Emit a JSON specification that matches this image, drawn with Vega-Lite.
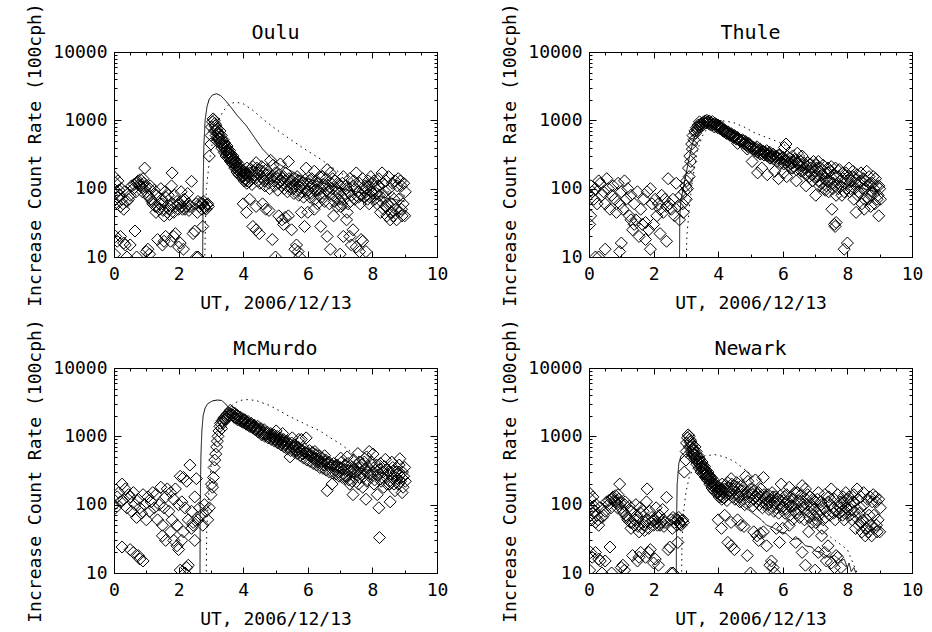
{
  "$schema": "https://vega.github.io/schema/vega-lite/v6.json",
  "background": "white",
  "padding": {"left": 26, "top": 2, "right": 5, "bottom": 5},
  "config": {
    "font": "DejaVu Sans Mono",
    "view": {"stroke": "black", "strokeWidth": 1},
    "axis": {"grid": false, "domainColor": "black", "domainWidth": 1, "tickColor": "black", "tickWidth": 1, "labelColor": "black", "labelFont": "DejaVu Sans Mono", "labelFontSize": 18, "titleFont": "DejaVu Sans Mono", "titleFontSize": 18, "titleFontWeight": "normal", "titleColor": "black", "labelOverlap": false, "labelFlush": false, "labelBound": false},
    "title": {"font": "DejaVu Sans Mono", "fontSize": 20, "fontWeight": "normal", "color": "black", "offset": 13, "baseline": "alphabetic", "frame": "group", "dy": 53}
  },
  "datasets": {
    "oulu_obs": [
      {"ut":0,"rate":150},{"ut":0.03,"rate":60},{"ut":0.05,"rate":120},{"ut":0.1,"rate":75},{"ut":0.15,"rate":95},{"ut":0.2,"rate":55},{"ut":0.25,"rate":70},{"ut":0.3,"rate":50},{"ut":0.4,"rate":65},{"ut":0.5,"rate":80},{"ut":0.55,"rate":110},{"ut":0.6,"rate":100},{"ut":0.7,"rate":120},{"ut":0.75,"rate":130},{"ut":0.8,"rate":110},{"ut":0.85,"rate":105},{"ut":0.9,"rate":140},{"ut":0.95,"rate":200},{"ut":1.0,"rate":90},{"ut":1.05,"rate":80},{"ut":1.1,"rate":100},{"ut":1.15,"rate":70},{"ut":1.2,"rate":60},{"ut":1.3,"rate":45},{"ut":1.35,"rate":55},{"ut":1.4,"rate":50},{"ut":1.5,"rate":60},{"ut":1.55,"rate":40},{"ut":1.6,"rate":75},{"ut":1.7,"rate":50},{"ut":1.75,"rate":55},{"ut":1.8,"rate":170},{"ut":1.85,"rate":45},{"ut":1.9,"rate":55},{"ut":1.95,"rate":65},{"ut":2.0,"rate":50},{"ut":2.05,"rate":60},{"ut":2.1,"rate":55},{"ut":2.15,"rate":65},{"ut":2.2,"rate":50},{"ut":2.3,"rate":60},{"ut":2.35,"rate":55},{"ut":2.4,"rate":128},{"ut":2.6,"rate":65},{"ut":2.65,"rate":55},{"ut":2.75,"rate":60},{"ut":2.8,"rate":55},{"ut":2.85,"rate":50},{"ut":2.9,"rate":60},{"ut":2.92,"rate":55},
      {"ut":0.08,"rate":90},{"ut":0.12,"rate":130},{"ut":0.18,"rate":80},{"ut":0.22,"rate":100},{"ut":0.28,"rate":60},{"ut":0.33,"rate":90},{"ut":0.45,"rate":70},{"ut":0.62,"rate":115},{"ut":0.68,"rate":90},{"ut":0.72,"rate":125},{"ut":0.78,"rate":115},{"ut":0.82,"rate":135},{"ut":0.88,"rate":90},{"ut":0.92,"rate":120},{"ut":0.98,"rate":105},{"ut":1.08,"rate":75},{"ut":1.12,"rate":110},{"ut":1.18,"rate":65},{"ut":1.25,"rate":95},{"ut":1.28,"rate":55},{"ut":1.32,"rate":80},{"ut":1.42,"rate":60},{"ut":1.45,"rate":100},{"ut":1.48,"rate":70},{"ut":1.52,"rate":48},{"ut":1.58,"rate":90},{"ut":1.65,"rate":45},{"ut":1.68,"rate":80},{"ut":1.72,"rate":42},{"ut":1.78,"rate":110},{"ut":1.82,"rate":60},{"ut":1.88,"rate":80},{"ut":1.98,"rate":58},{"ut":2.08,"rate":90},{"ut":2.12,"rate":50},{"ut":2.18,"rate":70},{"ut":2.25,"rate":55},{"ut":2.28,"rate":85},{"ut":2.32,"rate":48},{"ut":2.55,"rate":60},{"ut":2.58,"rate":45},{"ut":2.68,"rate":62},{"ut":2.72,"rate":50},{"ut":2.78,"rate":65},{"ut":2.82,"rate":52},{"ut":2.88,"rate":58},
      {"ut":0.02,"rate":11},{"ut":0.05,"rate":20},{"ut":0.1,"rate":17},{"ut":0.2,"rate":20},{"ut":0.3,"rate":16},{"ut":0.35,"rate":15},{"ut":0.5,"rate":15},{"ut":0.65,"rate":24},{"ut":0.7,"rate":10},{"ut":1.0,"rate":12},{"ut":1.05,"rate":13},{"ut":1.1,"rate":11},{"ut":1.35,"rate":18},{"ut":1.5,"rate":15},{"ut":1.55,"rate":17},{"ut":1.6,"rate":20},{"ut":1.75,"rate":17},{"ut":1.85,"rate":20},{"ut":1.9,"rate":22},{"ut":2.0,"rate":14},{"ut":2.05,"rate":16},{"ut":2.15,"rate":13},{"ut":2.45,"rate":22},{"ut":2.5,"rate":24},{"ut":2.55,"rate":10},{"ut":2.6,"rate":10},{"ut":2.75,"rate":28},{"ut":0.4,"rate":10},
      {"ut":2.95,"rate":300},{"ut":3.0,"rate":450},{"ut":3.01,"rate":600},{"ut":3.02,"rate":800},{"ut":3.05,"rate":950},{"ut":3.07,"rate":1050},{"ut":3.1,"rate":1000},{"ut":3.11,"rate":700},{"ut":3.12,"rate":900},{"ut":3.15,"rate":850},{"ut":3.16,"rate":600},{"ut":3.18,"rate":500},{"ut":3.2,"rate":750},{"ut":3.22,"rate":650},{"ut":3.25,"rate":550},{"ut":3.28,"rate":700},{"ut":3.3,"rate":480},{"ut":3.32,"rate":600},{"ut":3.35,"rate":430},{"ut":3.38,"rate":520},{"ut":3.4,"rate":400},{"ut":3.42,"rate":470},{"ut":3.45,"rate":380},{"ut":3.48,"rate":350},{"ut":3.5,"rate":420},{"ut":3.52,"rate":330},{"ut":3.55,"rate":300},{"ut":3.58,"rate":360},{"ut":3.6,"rate":280},{"ut":3.62,"rate":320},{"ut":3.65,"rate":260},{"ut":3.68,"rate":300},{"ut":3.7,"rate":240},{"ut":3.72,"rate":270},{"ut":3.75,"rate":220},{"ut":3.78,"rate":250},{"ut":3.8,"rate":210},{"ut":3.82,"rate":190},{"ut":3.85,"rate":230},{"ut":3.88,"rate":180},{"ut":3.9,"rate":200},{"ut":3.92,"rate":170},{"ut":3.95,"rate":190},{"ut":3.98,"rate":160},{"ut":4.0,"rate":150},{"ut":4.02,"rate":180},{"ut":4.05,"rate":140},{"ut":4.08,"rate":160},{"ut":4.1,"rate":130},{"ut":4.12,"rate":200},{"ut":4.15,"rate":150},{"ut":4.2,"rate":170},{"ut":4.25,"rate":140},{"ut":4.3,"rate":210},{"ut":4.35,"rate":160},{"ut":4.4,"rate":240},{"ut":4.45,"rate":130},{"ut":4.5,"rate":190},{"ut":4.55,"rate":150},{"ut":4.6,"rate":180},{"ut":4.65,"rate":130},{"ut":4.7,"rate":160},{"ut":4.75,"rate":140},{"ut":4.8,"rate":120},{"ut":4.85,"rate":260},{"ut":4.9,"rate":150},{"ut":4.95,"rate":130},{"ut":5.0,"rate":170},{"ut":5.05,"rate":140},{"ut":5.1,"rate":120},{"ut":5.15,"rate":230},{"ut":5.2,"rate":110},{"ut":5.25,"rate":150},{"ut":5.3,"rate":130},{"ut":5.35,"rate":110},{"ut":5.4,"rate":250},{"ut":5.45,"rate":120},{"ut":5.5,"rate":100},{"ut":5.55,"rate":140},{"ut":5.6,"rate":110},{"ut":5.65,"rate":95},{"ut":5.7,"rate":130},{"ut":5.75,"rate":105},{"ut":5.8,"rate":90},{"ut":5.85,"rate":120},{"ut":5.9,"rate":100},{"ut":5.95,"rate":200},{"ut":6.0,"rate":95},{"ut":6.05,"rate":130},{"ut":6.1,"rate":85},{"ut":6.15,"rate":110},{"ut":6.2,"rate":180},{"ut":6.25,"rate":95},{"ut":6.3,"rate":120},{"ut":6.35,"rate":80},{"ut":6.4,"rate":100},{"ut":6.45,"rate":150},{"ut":6.5,"rate":85},{"ut":6.55,"rate":110},{"ut":6.6,"rate":190},{"ut":6.65,"rate":90},{"ut":6.7,"rate":170},{"ut":6.75,"rate":100},{"ut":6.8,"rate":80},{"ut":6.85,"rate":130},{"ut":6.9,"rate":90},{"ut":6.95,"rate":70},{"ut":7.0,"rate":110},{"ut":7.05,"rate":60},{"ut":7.1,"rate":150},{"ut":7.15,"rate":85},{"ut":7.2,"rate":100},{"ut":7.25,"rate":60},{"ut":7.3,"rate":140},{"ut":7.35,"rate":80},{"ut":7.4,"rate":110},{"ut":7.45,"rate":70},{"ut":7.5,"rate":170},{"ut":7.55,"rate":90},{"ut":7.6,"rate":120},{"ut":7.65,"rate":80},{"ut":7.7,"rate":140},{"ut":7.75,"rate":75},{"ut":7.8,"rate":90},{"ut":7.85,"rate":70},{"ut":7.9,"rate":110},{"ut":7.95,"rate":150},{"ut":8.0,"rate":85},{"ut":8.05,"rate":130},{"ut":8.1,"rate":100},{"ut":8.15,"rate":60},{"ut":8.2,"rate":140},{"ut":8.25,"rate":45},{"ut":8.3,"rate":170},{"ut":8.35,"rate":50},{"ut":8.4,"rate":90},{"ut":8.45,"rate":40},{"ut":8.5,"rate":150},{"ut":8.55,"rate":35},{"ut":8.6,"rate":60},{"ut":8.65,"rate":40},{"ut":8.7,"rate":130},{"ut":8.75,"rate":35},{"ut":8.8,"rate":140},{"ut":8.85,"rate":45},{"ut":8.9,"rate":110},{"ut":8.95,"rate":60},{"ut":9.0,"rate":40},{"ut":9.02,"rate":90},
      {"ut":3.13,"rate":820},{"ut":3.17,"rate":720},{"ut":3.21,"rate":560},{"ut":3.24,"rate":620},{"ut":3.27,"rate":480},{"ut":3.31,"rate":540},{"ut":3.34,"rate":390},{"ut":3.37,"rate":460},{"ut":3.41,"rate":340},{"ut":3.44,"rate":420},{"ut":3.47,"rate":300},{"ut":3.51,"rate":370},{"ut":3.54,"rate":280},{"ut":3.57,"rate":330},{"ut":3.61,"rate":250},{"ut":3.64,"rate":290},{"ut":3.67,"rate":230},{"ut":3.71,"rate":260},{"ut":3.74,"rate":200},{"ut":3.77,"rate":240},{"ut":3.81,"rate":175},{"ut":3.84,"rate":210},{"ut":3.87,"rate":160},{"ut":3.91,"rate":185},{"ut":3.94,"rate":150},{"ut":3.97,"rate":175},{"ut":4.03,"rate":130},{"ut":4.07,"rate":170},{"ut":4.11,"rate":120},{"ut":4.14,"rate":160},{"ut":4.18,"rate":125},{"ut":4.22,"rate":190},{"ut":4.27,"rate":115},{"ut":4.32,"rate":180},{"ut":4.37,"rate":140},{"ut":4.42,"rate":200},{"ut":4.47,"rate":170},{"ut":4.52,"rate":120},{"ut":4.57,"rate":210},{"ut":4.62,"rate":140},{"ut":4.67,"rate":110},{"ut":4.72,"rate":190},{"ut":4.77,"rate":160},{"ut":4.82,"rate":100},{"ut":4.87,"rate":140},{"ut":4.92,"rate":220},{"ut":4.97,"rate":110},{"ut":5.02,"rate":150},{"ut":5.07,"rate":95},{"ut":5.12,"rate":160},{"ut":5.17,"rate":130},{"ut":5.22,"rate":140},{"ut":5.27,"rate":100},{"ut":5.32,"rate":170},{"ut":5.37,"rate":90},{"ut":5.42,"rate":140},{"ut":5.47,"rate":105},{"ut":5.52,"rate":130},{"ut":5.57,"rate":85},{"ut":5.62,"rate":120},{"ut":5.67,"rate":150},{"ut":5.72,"rate":80},{"ut":5.77,"rate":130},{"ut":5.82,"rate":110},{"ut":5.87,"rate":75},{"ut":5.92,"rate":135},{"ut":5.97,"rate":90},{"ut":6.02,"rate":115},{"ut":6.07,"rate":75},{"ut":6.12,"rate":140},{"ut":6.17,"rate":100},{"ut":6.22,"rate":70},{"ut":6.27,"rate":130},{"ut":6.32,"rate":95},{"ut":6.37,"rate":150},{"ut":6.42,"rate":75},{"ut":6.47,"rate":115},{"ut":6.52,"rate":65},{"ut":6.57,"rate":140},{"ut":6.62,"rate":100},{"ut":6.67,"rate":60},{"ut":6.72,"rate":120},{"ut":6.77,"rate":140},{"ut":6.82,"rate":65},{"ut":6.87,"rate":100},{"ut":6.92,"rate":120},{"ut":6.97,"rate":85},{"ut":7.02,"rate":55},{"ut":7.07,"rate":120},{"ut":7.12,"rate":70},{"ut":7.17,"rate":110},{"ut":7.22,"rate":45},{"ut":7.27,"rate":90},{"ut":7.32,"rate":65},{"ut":7.42,"rate":130},{"ut":7.47,"rate":100},{"ut":7.57,"rate":75},{"ut":7.62,"rate":60},{"ut":7.72,"rate":95},{"ut":7.77,"rate":110},{"ut":7.82,"rate":80},{"ut":7.87,"rate":130},{"ut":7.92,"rate":75},{"ut":7.97,"rate":90},{"ut":8.02,"rate":120},{"ut":8.07,"rate":70},{"ut":8.12,"rate":85},{"ut":8.17,"rate":110},{"ut":8.22,"rate":80},{"ut":8.27,"rate":65},{"ut":8.32,"rate":120},{"ut":8.37,"rate":75},{"ut":8.42,"rate":130},{"ut":8.47,"rate":60},{"ut":8.52,"rate":100},{"ut":8.57,"rate":45},{"ut":8.62,"rate":120},{"ut":8.67,"rate":70},{"ut":8.72,"rate":50},{"ut":8.77,"rate":110},{"ut":8.82,"rate":70},{"ut":8.87,"rate":130},{"ut":8.92,"rate":40},{"ut":8.97,"rate":120},
      {"ut":4.3,"rate":28},{"ut":4.4,"rate":25},{"ut":4.5,"rate":22},{"ut":4.7,"rate":50},{"ut":4.9,"rate":18},{"ut":5.0,"rate":10},{"ut":5.1,"rate":40},{"ut":5.2,"rate":35},{"ut":5.25,"rate":30},{"ut":5.3,"rate":38},{"ut":5.5,"rate":25},{"ut":5.6,"rate":13},{"ut":5.65,"rate":15},{"ut":5.7,"rate":12},{"ut":5.75,"rate":10},{"ut":5.9,"rate":28},{"ut":6.0,"rate":45},{"ut":6.2,"rate":50},{"ut":6.4,"rate":28},{"ut":6.6,"rate":20},{"ut":6.7,"rate":13},{"ut":6.8,"rate":40},{"ut":7.0,"rate":11},{"ut":7.1,"rate":20},{"ut":7.2,"rate":35},{"ut":7.3,"rate":20},{"ut":7.35,"rate":15},{"ut":7.4,"rate":25},{"ut":7.5,"rate":14},{"ut":7.6,"rate":12},{"ut":7.65,"rate":18},{"ut":7.7,"rate":17},{"ut":7.8,"rate":12},{"ut":4.0,"rate":60},{"ut":4.1,"rate":45},{"ut":4.2,"rate":70},{"ut":4.4,"rate":55},{"ut":4.6,"rate":60},{"ut":4.8,"rate":48},{"ut":5.4,"rate":40},{"ut":5.8,"rate":45},{"ut":6.3,"rate":60},{"ut":6.9,"rate":55},{"ut":7.9,"rate":60},{"ut":8.4,"rate":55},{"ut":8.6,"rate":45},{"ut":8.9,"rate":50}
    ],
    "thule_obs": [
      {"ut":0.0,"rate":80},{"ut":0.02,"rate":30},{"ut":0.05,"rate":40},{"ut":0.06,"rate":110},{"ut":0.1,"rate":90},{"ut":0.15,"rate":70},{"ut":0.2,"rate":100},{"ut":0.25,"rate":60},{"ut":0.3,"rate":130},{"ut":0.35,"rate":120},{"ut":0.4,"rate":80},{"ut":0.45,"rate":90},{"ut":0.5,"rate":60},{"ut":0.55,"rate":140},{"ut":0.6,"rate":100},{"ut":0.65,"rate":50},{"ut":0.7,"rate":80},{"ut":0.75,"rate":110},{"ut":0.8,"rate":70},{"ut":0.85,"rate":45},{"ut":0.9,"rate":120},{"ut":0.95,"rate":60},{"ut":1.0,"rate":90},{"ut":1.05,"rate":50},{"ut":1.1,"rate":130},{"ut":1.15,"rate":70},{"ut":1.2,"rate":100},{"ut":1.25,"rate":40},{"ut":1.3,"rate":80},{"ut":1.35,"rate":25},{"ut":1.4,"rate":60},{"ut":1.45,"rate":35},{"ut":1.5,"rate":90},{"ut":1.55,"rate":20},{"ut":1.6,"rate":50},{"ut":1.65,"rate":30},{"ut":1.7,"rate":70},{"ut":1.75,"rate":32},{"ut":1.8,"rate":90},{"ut":1.85,"rate":25},{"ut":1.9,"rate":100},{"ut":1.95,"rate":60},{"ut":2.0,"rate":30},{"ut":2.05,"rate":70},{"ut":2.1,"rate":40},{"ut":2.15,"rate":60},{"ut":2.2,"rate":50},{"ut":2.25,"rate":80},{"ut":2.3,"rate":45},{"ut":2.35,"rate":70},{"ut":2.4,"rate":55},{"ut":2.45,"rate":140},{"ut":2.5,"rate":60},{"ut":2.55,"rate":50},{"ut":2.6,"rate":70},{"ut":2.65,"rate":40},{"ut":2.7,"rate":120},{"ut":2.75,"rate":55},{"ut":2.8,"rate":35},{"ut":2.85,"rate":80},{"ut":2.9,"rate":60},{"ut":2.95,"rate":90},{"ut":2.92,"rate":45},{"ut":3.0,"rate":110},{"ut":3.01,"rate":70},
      {"ut":0.3,"rate":10},{"ut":0.5,"rate":13},{"ut":0.95,"rate":12},{"ut":1.0,"rate":16},{"ut":1.75,"rate":18},{"ut":1.9,"rate":13},{"ut":2.2,"rate":22},{"ut":2.4,"rate":17},{"ut":1.4,"rate":30},{"ut":1.3,"rate":35},{"ut":0.2,"rate":10},
      {"ut":3.02,"rate":130},{"ut":3.05,"rate":100},{"ut":3.08,"rate":200},{"ut":3.1,"rate":150},{"ut":3.12,"rate":300},{"ut":3.15,"rate":250},{"ut":3.18,"rate":450},{"ut":3.2,"rate":380},{"ut":3.22,"rate":600},{"ut":3.25,"rate":520},{"ut":3.28,"rate":700},{"ut":3.3,"rate":650},{"ut":3.33,"rate":780},{"ut":3.35,"rate":720},{"ut":3.38,"rate":850},{"ut":3.4,"rate":800},{"ut":3.42,"rate":950},{"ut":3.45,"rate":880},{"ut":3.48,"rate":820},{"ut":3.5,"rate":900},{"ut":3.53,"rate":860},{"ut":3.55,"rate":950},{"ut":3.58,"rate":900},{"ut":3.6,"rate":980},{"ut":3.63,"rate":920},{"ut":3.65,"rate":1000},{"ut":3.68,"rate":950},{"ut":3.7,"rate":900},{"ut":3.72,"rate":980},{"ut":3.75,"rate":870},{"ut":3.78,"rate":920},{"ut":3.8,"rate":850},{"ut":3.82,"rate":960},{"ut":3.85,"rate":880},{"ut":3.88,"rate":800},{"ut":3.9,"rate":900},{"ut":3.92,"rate":830},{"ut":3.95,"rate":870},{"ut":3.98,"rate":780},{"ut":4.0,"rate":850},{"ut":4.02,"rate":800},{"ut":4.05,"rate":760},{"ut":4.08,"rate":820},{"ut":4.1,"rate":740},{"ut":4.15,"rate":700},{"ut":4.2,"rate":720},{"ut":4.25,"rate":650},{"ut":4.3,"rate":680},{"ut":4.35,"rate":620},{"ut":4.4,"rate":640},{"ut":4.45,"rate":580},{"ut":4.5,"rate":600},{"ut":4.55,"rate":540},{"ut":4.6,"rate":560},{"ut":4.65,"rate":520},{"ut":4.7,"rate":500},{"ut":4.75,"rate":520},{"ut":4.8,"rate":470},{"ut":4.85,"rate":490},{"ut":4.9,"rate":430},{"ut":4.95,"rate":460},{"ut":5.0,"rate":420},{"ut":5.05,"rate":250},{"ut":5.1,"rate":400},{"ut":5.15,"rate":380},{"ut":5.2,"rate":410},{"ut":5.25,"rate":360},{"ut":5.3,"rate":380},{"ut":5.35,"rate":200},{"ut":5.4,"rate":350},{"ut":5.45,"rate":330},{"ut":5.5,"rate":360},{"ut":5.55,"rate":310},{"ut":5.6,"rate":340},{"ut":5.65,"rate":290},{"ut":5.7,"rate":320},{"ut":5.75,"rate":180},{"ut":5.8,"rate":300},{"ut":5.85,"rate":280},{"ut":5.9,"rate":310},{"ut":5.95,"rate":270},{"ut":6.0,"rate":290},{"ut":6.05,"rate":400},{"ut":6.1,"rate":450},{"ut":6.15,"rate":250},{"ut":6.2,"rate":280},{"ut":6.25,"rate":230},{"ut":6.3,"rate":300},{"ut":6.35,"rate":210},{"ut":6.4,"rate":260},{"ut":6.45,"rate":330},{"ut":6.5,"rate":220},{"ut":6.55,"rate":250},{"ut":6.6,"rate":190},{"ut":6.65,"rate":240},{"ut":6.7,"rate":170},{"ut":6.75,"rate":210},{"ut":6.8,"rate":180},{"ut":6.85,"rate":230},{"ut":6.9,"rate":160},{"ut":6.95,"rate":250},{"ut":7.0,"rate":150},{"ut":7.05,"rate":200},{"ut":7.1,"rate":130},{"ut":7.15,"rate":180},{"ut":7.2,"rate":120},{"ut":7.25,"rate":220},{"ut":7.3,"rate":140},{"ut":7.35,"rate":110},{"ut":7.4,"rate":170},{"ut":7.45,"rate":130},{"ut":7.5,"rate":210},{"ut":7.55,"rate":100},{"ut":7.6,"rate":160},{"ut":7.65,"rate":80},{"ut":7.7,"rate":120},{"ut":7.75,"rate":190},{"ut":7.8,"rate":110},{"ut":7.85,"rate":140},{"ut":7.9,"rate":90},{"ut":7.95,"rate":170},{"ut":8.0,"rate":130},{"ut":8.05,"rate":200},{"ut":8.1,"rate":100},{"ut":8.15,"rate":150},{"ut":8.2,"rate":70},{"ut":8.25,"rate":120},{"ut":8.3,"rate":160},{"ut":8.35,"rate":90},{"ut":8.4,"rate":130},{"ut":8.45,"rate":60},{"ut":8.5,"rate":140},{"ut":8.55,"rate":100},{"ut":8.6,"rate":180},{"ut":8.65,"rate":70},{"ut":8.7,"rate":120},{"ut":8.75,"rate":90},{"ut":8.8,"rate":150},{"ut":8.85,"rate":60},{"ut":8.9,"rate":110},{"ut":8.95,"rate":80},{"ut":9.0,"rate":100},{"ut":9.02,"rate":70},{"ut":8.97,"rate":40},{"ut":6.02,"rate":170},{"ut":6.12,"rate":150},{"ut":6.42,"rate":130},{"ut":6.72,"rate":110},{"ut":7.02,"rate":80},{"ut":7.32,"rate":95},{"ut":7.52,"rate":50},{"ut":7.6,"rate":30},{"ut":7.62,"rate":28},{"ut":7.65,"rate":32},{"ut":7.9,"rate":13},{"ut":8.0,"rate":16},{"ut":8.27,"rate":45},{"ut":8.52,"rate":50},{"ut":8.72,"rate":55},{"ut":5.22,"rate":170},{"ut":5.52,"rate":160},{"ut":5.87,"rate":140},{"ut":4.6,"rate":460},{"ut":4.9,"rate":380},{"ut":5.3,"rate":320},{"ut":5.6,"rate":280},{"ut":6.3,"rate":200},{"ut":6.6,"rate":300},{"ut":7.1,"rate":250},{"ut":7.4,"rate":200},
      {"ut":4.03,"rate":820},{"ut":4.07,"rate":780},{"ut":4.12,"rate":760},{"ut":4.17,"rate":690},{"ut":4.22,"rate":700},{"ut":4.27,"rate":640},{"ut":4.32,"rate":660},{"ut":4.37,"rate":600},{"ut":4.42,"rate":620},{"ut":4.47,"rate":560},{"ut":4.52,"rate":580},{"ut":4.57,"rate":530},{"ut":4.62,"rate":540},{"ut":4.67,"rate":500},{"ut":4.72,"rate":480},{"ut":4.77,"rate":500},{"ut":4.82,"rate":450},{"ut":4.87,"rate":470},{"ut":4.92,"rate":410},{"ut":4.97,"rate":440},{"ut":5.02,"rate":400},{"ut":5.07,"rate":380},{"ut":5.12,"rate":360},{"ut":5.17,"rate":390},{"ut":5.22,"rate":340},{"ut":5.27,"rate":370},{"ut":5.32,"rate":330},{"ut":5.37,"rate":350},{"ut":5.42,"rate":310},{"ut":5.47,"rate":340},{"ut":5.52,"rate":300},{"ut":5.57,"rate":320},{"ut":5.62,"rate":280},{"ut":5.67,"rate":300},{"ut":5.72,"rate":270},{"ut":5.77,"rate":290},{"ut":5.82,"rate":250},{"ut":5.87,"rate":310},{"ut":5.92,"rate":240},{"ut":5.97,"rate":280},{"ut":6.03,"rate":230},{"ut":6.07,"rate":260},{"ut":6.13,"rate":300},{"ut":6.17,"rate":220},{"ut":6.22,"rate":250},{"ut":6.27,"rate":200},{"ut":6.32,"rate":240},{"ut":6.37,"rate":270},{"ut":6.42,"rate":190},{"ut":6.47,"rate":230},{"ut":6.52,"rate":260},{"ut":6.57,"rate":180},{"ut":6.62,"rate":220},{"ut":6.67,"rate":200},{"ut":6.72,"rate":160},{"ut":6.77,"rate":240},{"ut":6.82,"rate":150},{"ut":6.87,"rate":200},{"ut":6.92,"rate":130},{"ut":6.97,"rate":180},{"ut":7.03,"rate":220},{"ut":7.07,"rate":150},{"ut":7.13,"rate":110},{"ut":7.17,"rate":200},{"ut":7.22,"rate":160},{"ut":7.27,"rate":100},{"ut":7.33,"rate":170},{"ut":7.37,"rate":130},{"ut":7.42,"rate":90},{"ut":7.47,"rate":180},{"ut":7.53,"rate":140},{"ut":7.57,"rate":120},{"ut":7.63,"rate":200},{"ut":7.67,"rate":150},{"ut":7.72,"rate":100},{"ut":7.77,"rate":130},{"ut":7.83,"rate":80},{"ut":7.87,"rate":170},{"ut":7.92,"rate":120},{"ut":7.97,"rate":100},{"ut":8.03,"rate":150},{"ut":8.07,"rate":90},{"ut":8.12,"rate":130},{"ut":8.17,"rate":180},{"ut":8.22,"rate":100},{"ut":8.27,"rate":140},{"ut":8.32,"rate":80},{"ut":8.37,"rate":120},{"ut":8.42,"rate":170},{"ut":8.47,"rate":100},{"ut":8.53,"rate":70},{"ut":8.57,"rate":130},{"ut":8.62,"rate":110},{"ut":8.67,"rate":150},{"ut":8.72,"rate":80},{"ut":8.77,"rate":120},{"ut":8.82,"rate":100},{"ut":8.87,"rate":140},{"ut":8.92,"rate":70},{"ut":8.97,"rate":110}
    ],
    "mcmurdo_obs": [
      {"ut":0.0,"rate":100},{"ut":0.05,"rate":90},{"ut":0.1,"rate":130},{"ut":0.15,"rate":150},{"ut":0.2,"rate":110},{"ut":0.25,"rate":200},{"ut":0.3,"rate":120},{"ut":0.35,"rate":170},{"ut":0.4,"rate":90},{"ut":0.45,"rate":140},{"ut":0.5,"rate":130},{"ut":0.55,"rate":80},{"ut":0.6,"rate":150},{"ut":0.65,"rate":100},{"ut":0.7,"rate":65},{"ut":0.75,"rate":120},{"ut":0.8,"rate":90},{"ut":0.85,"rate":75},{"ut":0.9,"rate":140},{"ut":0.95,"rate":100},{"ut":1.0,"rate":60},{"ut":1.05,"rate":130},{"ut":1.1,"rate":80},{"ut":1.15,"rate":110},{"ut":1.2,"rate":150},{"ut":1.25,"rate":90},{"ut":1.3,"rate":140},{"ut":1.35,"rate":60},{"ut":1.4,"rate":100},{"ut":1.45,"rate":180},{"ut":1.5,"rate":50},{"ut":1.55,"rate":90},{"ut":1.6,"rate":130},{"ut":1.65,"rate":170},{"ut":1.7,"rate":80},{"ut":1.75,"rate":150},{"ut":1.8,"rate":60},{"ut":1.85,"rate":120},{"ut":1.9,"rate":170},{"ut":1.95,"rate":50},{"ut":2.0,"rate":100},{"ut":2.05,"rate":260},{"ut":2.1,"rate":110},{"ut":2.15,"rate":250},{"ut":2.2,"rate":90},{"ut":2.25,"rate":220},{"ut":2.3,"rate":60},{"ut":2.35,"rate":380},{"ut":2.4,"rate":80},{"ut":2.45,"rate":50},{"ut":2.5,"rate":130},{"ut":2.55,"rate":240},{"ut":2.6,"rate":60},{"ut":2.65,"rate":90},{"ut":2.7,"rate":70},{"ut":2.75,"rate":50},{"ut":2.8,"rate":100},{"ut":2.85,"rate":80},{"ut":2.9,"rate":60},{"ut":2.95,"rate":90},
      {"ut":0.25,"rate":24},{"ut":0.5,"rate":22},{"ut":0.6,"rate":20},{"ut":0.75,"rate":18},{"ut":0.8,"rate":16},{"ut":0.9,"rate":15},{"ut":1.5,"rate":35},{"ut":1.6,"rate":30},{"ut":1.75,"rate":40},{"ut":1.85,"rate":30},{"ut":1.95,"rate":25},{"ut":2.0,"rate":22},{"ut":2.05,"rate":11},{"ut":2.1,"rate":30},{"ut":2.15,"rate":40},{"ut":2.25,"rate":12},{"ut":2.3,"rate":13},{"ut":2.2,"rate":10},{"ut":2.4,"rate":45},{"ut":2.45,"rate":55},{"ut":2.5,"rate":30},
      {"ut":3.0,"rate":140},{"ut":3.02,"rate":200},{"ut":3.05,"rate":180},{"ut":3.08,"rate":250},{"ut":3.1,"rate":350},{"ut":3.12,"rate":450},{"ut":3.15,"rate":550},{"ut":3.18,"rate":700},{"ut":3.2,"rate":850},{"ut":3.22,"rate":1000},{"ut":3.25,"rate":1200},{"ut":3.28,"rate":1400},{"ut":3.3,"rate":1550},{"ut":3.33,"rate":1300},{"ut":3.35,"rate":1700},{"ut":3.38,"rate":1600},{"ut":3.4,"rate":1850},{"ut":3.42,"rate":1750},{"ut":3.45,"rate":1950},{"ut":3.48,"rate":1800},{"ut":3.5,"rate":2100},{"ut":3.52,"rate":1950},{"ut":3.55,"rate":2200},{"ut":3.58,"rate":2000},{"ut":3.6,"rate":2400},{"ut":3.62,"rate":2100},{"ut":3.65,"rate":2300},{"ut":3.68,"rate":2050},{"ut":3.7,"rate":2200},{"ut":3.72,"rate":1900},{"ut":3.75,"rate":2150},{"ut":3.78,"rate":1850},{"ut":3.8,"rate":2050},{"ut":3.82,"rate":1750},{"ut":3.85,"rate":1950},{"ut":3.88,"rate":1800},{"ut":3.9,"rate":1700},{"ut":3.92,"rate":1900},{"ut":3.95,"rate":1650},{"ut":3.98,"rate":1800},{"ut":4.0,"rate":1600},{"ut":4.05,"rate":1750},{"ut":4.1,"rate":1500},{"ut":4.15,"rate":1650},{"ut":4.2,"rate":1400},{"ut":4.25,"rate":1550},{"ut":4.3,"rate":1350},{"ut":4.35,"rate":1450},{"ut":4.4,"rate":1250},{"ut":4.45,"rate":1400},{"ut":4.5,"rate":1200},{"ut":4.55,"rate":1300},{"ut":4.6,"rate":1100},{"ut":4.65,"rate":1250},{"ut":4.7,"rate":1050},{"ut":4.75,"rate":1150},{"ut":4.8,"rate":980},{"ut":4.85,"rate":1100},{"ut":4.9,"rate":950},{"ut":4.95,"rate":1050},{"ut":5.0,"rate":900},{"ut":5.05,"rate":1000},{"ut":5.1,"rate":850},{"ut":5.15,"rate":950},{"ut":5.2,"rate":800},{"ut":5.25,"rate":900},{"ut":5.3,"rate":750},{"ut":5.35,"rate":850},{"ut":5.4,"rate":700},{"ut":5.45,"rate":500},{"ut":5.5,"rate":800},{"ut":5.55,"rate":680},{"ut":5.6,"rate":750},{"ut":5.65,"rate":620},{"ut":5.7,"rate":700},{"ut":5.75,"rate":580},{"ut":5.8,"rate":900},{"ut":5.85,"rate":550},{"ut":5.9,"rate":650},{"ut":5.95,"rate":950},{"ut":6.0,"rate":560},{"ut":6.05,"rate":620},{"ut":6.1,"rate":500},{"ut":6.15,"rate":580},{"ut":6.2,"rate":460},{"ut":6.25,"rate":540},{"ut":6.3,"rate":420},{"ut":6.35,"rate":520},{"ut":6.4,"rate":400},{"ut":6.45,"rate":480},{"ut":6.5,"rate":380},{"ut":6.55,"rate":450},{"ut":6.6,"rate":160},{"ut":6.65,"rate":420},{"ut":6.7,"rate":350},{"ut":6.75,"rate":200},{"ut":6.8,"rate":400},{"ut":6.85,"rate":320},{"ut":6.9,"rate":380},{"ut":6.95,"rate":300},{"ut":7.0,"rate":350},{"ut":7.05,"rate":420},{"ut":7.1,"rate":280},{"ut":7.15,"rate":380},{"ut":7.2,"rate":260},{"ut":7.25,"rate":400},{"ut":7.3,"rate":200},{"ut":7.35,"rate":350},{"ut":7.4,"rate":140},{"ut":7.45,"rate":300},{"ut":7.5,"rate":380},{"ut":7.55,"rate":560},{"ut":7.6,"rate":250},{"ut":7.65,"rate":350},{"ut":7.7,"rate":180},{"ut":7.75,"rate":420},{"ut":7.8,"rate":120},{"ut":7.85,"rate":300},{"ut":7.9,"rate":600},{"ut":7.95,"rate":250},{"ut":8.0,"rate":380},{"ut":8.05,"rate":200},{"ut":8.1,"rate":320},{"ut":8.15,"rate":140},{"ut":8.2,"rate":90},{"ut":8.22,"rate":33},{"ut":8.25,"rate":400},{"ut":8.3,"rate":250},{"ut":8.35,"rate":180},{"ut":8.4,"rate":460},{"ut":8.45,"rate":200},{"ut":8.5,"rate":300},{"ut":8.55,"rate":110},{"ut":8.6,"rate":420},{"ut":8.65,"rate":240},{"ut":8.7,"rate":160},{"ut":8.75,"rate":350},{"ut":8.8,"rate":200},{"ut":8.85,"rate":470},{"ut":8.9,"rate":250},{"ut":8.95,"rate":180},{"ut":9.0,"rate":350},{"ut":9.02,"rate":220},{"ut":8.92,"rate":150},{"ut":8.82,"rate":300},{"ut":8.62,"rate":250},{"ut":8.52,"rate":200},{"ut":7.02,"rate":480},{"ut":7.22,"rate":500},{"ut":7.42,"rate":450},{"ut":7.62,"rate":420},{"ut":7.82,"rate":500},{"ut":8.02,"rate":550},{"ut":6.52,"rate":520},{"ut":6.22,"rate":600},{"ut":5.52,"rate":950},{"ut":5.02,"rate":1200},{"ut":5.22,"rate":1100},{"ut":5.72,"rate":900},
      {"ut":4.03,"rate":1700},{"ut":4.07,"rate":1550},{"ut":4.12,"rate":1600},{"ut":4.17,"rate":1450},{"ut":4.22,"rate":1500},{"ut":4.27,"rate":1350},{"ut":4.32,"rate":1400},{"ut":4.37,"rate":1250},{"ut":4.42,"rate":1300},{"ut":4.47,"rate":1150},{"ut":4.52,"rate":1250},{"ut":4.57,"rate":1050},{"ut":4.62,"rate":1150},{"ut":4.67,"rate":1000},{"ut":4.72,"rate":1100},{"ut":4.77,"rate":950},{"ut":4.82,"rate":1050},{"ut":4.87,"rate":900},{"ut":4.92,"rate":1000},{"ut":4.97,"rate":850},{"ut":5.03,"rate":950},{"ut":5.07,"rate":800},{"ut":5.12,"rate":900},{"ut":5.17,"rate":750},{"ut":5.23,"rate":850},{"ut":5.27,"rate":700},{"ut":5.32,"rate":800},{"ut":5.37,"rate":650},{"ut":5.42,"rate":780},{"ut":5.47,"rate":620},{"ut":5.53,"rate":720},{"ut":5.57,"rate":600},{"ut":5.62,"rate":700},{"ut":5.67,"rate":560},{"ut":5.73,"rate":650},{"ut":5.77,"rate":520},{"ut":5.83,"rate":620},{"ut":5.87,"rate":480},{"ut":5.93,"rate":580},{"ut":5.97,"rate":450},{"ut":6.03,"rate":540},{"ut":6.07,"rate":430},{"ut":6.13,"rate":520},{"ut":6.17,"rate":400},{"ut":6.23,"rate":480},{"ut":6.27,"rate":380},{"ut":6.33,"rate":460},{"ut":6.37,"rate":350},{"ut":6.43,"rate":430},{"ut":6.47,"rate":340},{"ut":6.53,"rate":420},{"ut":6.57,"rate":320},{"ut":6.63,"rate":400},{"ut":6.67,"rate":300},{"ut":6.73,"rate":380},{"ut":6.77,"rate":290},{"ut":6.83,"rate":360},{"ut":6.87,"rate":280},{"ut":6.93,"rate":350},{"ut":6.97,"rate":260},{"ut":7.03,"rate":340},{"ut":7.07,"rate":250},{"ut":7.13,"rate":330},{"ut":7.17,"rate":240},{"ut":7.23,"rate":320},{"ut":7.27,"rate":230},{"ut":7.33,"rate":310},{"ut":7.37,"rate":220},{"ut":7.43,"rate":330},{"ut":7.47,"rate":250},{"ut":7.53,"rate":300},{"ut":7.57,"rate":200},{"ut":7.63,"rate":290},{"ut":7.67,"rate":380},{"ut":7.73,"rate":260},{"ut":7.77,"rate":330},{"ut":7.83,"rate":220},{"ut":7.87,"rate":350},{"ut":7.93,"rate":280},{"ut":7.97,"rate":420},{"ut":8.03,"rate":300},{"ut":8.07,"rate":230},{"ut":8.13,"rate":380},{"ut":8.17,"rate":270},{"ut":8.23,"rate":330},{"ut":8.27,"rate":220},{"ut":8.33,"rate":300},{"ut":8.37,"rate":360},{"ut":8.43,"rate":250},{"ut":8.47,"rate":320},{"ut":8.53,"rate":220},{"ut":8.57,"rate":280},{"ut":8.63,"rate":350},{"ut":8.67,"rate":200},{"ut":8.73,"rate":300},{"ut":8.77,"rate":240},{"ut":8.83,"rate":380},{"ut":8.87,"rate":220},{"ut":8.93,"rate":300},{"ut":8.97,"rate":260}
    ],
    "oulu_model": [
      {"ut":2.74,"rate":5,"curve":"solid"},{"ut":2.76,"rate":100,"curve":"solid"},{"ut":2.78,"rate":400,"curve":"solid"},{"ut":2.82,"rate":1000,"curve":"solid"},{"ut":2.88,"rate":1600,"curve":"solid"},{"ut":2.95,"rate":2050,"curve":"solid"},{"ut":3.05,"rate":2350,"curve":"solid"},{"ut":3.18,"rate":2450,"curve":"solid"},{"ut":3.3,"rate":2300,"curve":"solid"},{"ut":3.45,"rate":1950,"curve":"solid"},{"ut":3.6,"rate":1600,"curve":"solid"},{"ut":3.8,"rate":1200,"curve":"solid"},{"ut":4.1,"rate":830,"curve":"solid"},{"ut":4.35,"rate":560,"curve":"solid"},{"ut":4.6,"rate":380,"curve":"solid"},{"ut":4.9,"rate":270,"curve":"solid"},{"ut":5.2,"rate":215,"curve":"solid"},{"ut":5.5,"rate":180,"curve":"solid"},{"ut":5.8,"rate":150,"curve":"solid"},{"ut":6.2,"rate":130,"curve":"solid"},{"ut":6.6,"rate":115,"curve":"solid"},{"ut":7.0,"rate":100,"curve":"solid"},{"ut":7.5,"rate":90,"curve":"solid"},{"ut":8.0,"rate":80,"curve":"solid"},{"ut":8.5,"rate":72,"curve":"solid"},{"ut":9.0,"rate":65,"curve":"solid"},
      {"ut":2.8,"rate":5,"curve":"dotted"},{"ut":2.83,"rate":30,"curve":"dotted"},{"ut":2.86,"rate":100,"curve":"dotted"},{"ut":2.95,"rate":250,"curve":"dotted"},{"ut":3.05,"rate":500,"curve":"dotted"},{"ut":3.2,"rate":900,"curve":"dotted"},{"ut":3.37,"rate":1350,"curve":"dotted"},{"ut":3.55,"rate":1700,"curve":"dotted"},{"ut":3.75,"rate":1850,"curve":"dotted"},{"ut":4.0,"rate":1750,"curve":"dotted"},{"ut":4.3,"rate":1400,"curve":"dotted"},{"ut":4.6,"rate":1050,"curve":"dotted"},{"ut":5.0,"rate":750,"curve":"dotted"},{"ut":5.45,"rate":530,"curve":"dotted"},{"ut":5.9,"rate":380,"curve":"dotted"},{"ut":6.4,"rate":270,"curve":"dotted"},{"ut":7.0,"rate":170,"curve":"dotted"},{"ut":7.5,"rate":130,"curve":"dotted"},{"ut":8.0,"rate":105,"curve":"dotted"},{"ut":8.5,"rate":90,"curve":"dotted"},{"ut":9.0,"rate":80,"curve":"dotted"}
    ],
    "thule_model": [
      {"ut":2.8,"rate":5,"curve":"solid"},{"ut":2.81,"rate":40,"curve":"solid"},{"ut":2.85,"rate":70,"curve":"solid"},{"ut":2.92,"rate":100,"curve":"solid"},{"ut":3.0,"rate":160,"curve":"solid"},{"ut":3.1,"rate":280,"curve":"solid"},{"ut":3.2,"rate":450,"curve":"solid"},{"ut":3.3,"rate":640,"curve":"solid"},{"ut":3.45,"rate":850,"curve":"solid"},{"ut":3.6,"rate":950,"curve":"solid"},{"ut":3.8,"rate":940,"curve":"solid"},{"ut":4.0,"rate":880,"curve":"solid"},{"ut":4.3,"rate":740,"curve":"solid"},{"ut":4.6,"rate":600,"curve":"solid"},{"ut":5.0,"rate":450,"curve":"solid"},{"ut":5.5,"rate":340,"curve":"solid"},{"ut":6.0,"rate":270,"curve":"solid"},{"ut":6.5,"rate":215,"curve":"solid"},{"ut":7.0,"rate":170,"curve":"solid"},{"ut":7.5,"rate":140,"curve":"solid"},{"ut":8.0,"rate":115,"curve":"solid"},{"ut":8.5,"rate":100,"curve":"solid"},{"ut":9.0,"rate":88,"curve":"solid"},
      {"ut":3.0,"rate":5,"curve":"dotted"},{"ut":3.03,"rate":20,"curve":"dotted"},{"ut":3.1,"rate":50,"curve":"dotted"},{"ut":3.2,"rate":130,"curve":"dotted"},{"ut":3.35,"rate":350,"curve":"dotted"},{"ut":3.5,"rate":580,"curve":"dotted"},{"ut":3.7,"rate":820,"curve":"dotted"},{"ut":3.9,"rate":950,"curve":"dotted"},{"ut":4.1,"rate":990,"curve":"dotted"},{"ut":4.47,"rate":930,"curve":"dotted"},{"ut":4.8,"rate":800,"curve":"dotted"},{"ut":5.1,"rate":665,"curve":"dotted"},{"ut":5.5,"rate":560,"curve":"dotted"},{"ut":5.9,"rate":475,"curve":"dotted"},{"ut":6.3,"rate":380,"curve":"dotted"},{"ut":7.0,"rate":250,"curve":"dotted"},{"ut":7.5,"rate":200,"curve":"dotted"},{"ut":8.0,"rate":160,"curve":"dotted"},{"ut":8.5,"rate":130,"curve":"dotted"},{"ut":9.0,"rate":110,"curve":"dotted"}
    ],
    "mcmurdo_model": [
      {"ut":2.66,"rate":5,"curve":"solid"},{"ut":2.67,"rate":100,"curve":"solid"},{"ut":2.69,"rate":500,"curve":"solid"},{"ut":2.72,"rate":1200,"curve":"solid"},{"ut":2.76,"rate":2000,"curve":"solid"},{"ut":2.82,"rate":2600,"curve":"solid"},{"ut":2.9,"rate":3000,"curve":"solid"},{"ut":3.05,"rate":3300,"curve":"solid"},{"ut":3.2,"rate":3400,"curve":"solid"},{"ut":3.33,"rate":3350,"curve":"solid"},{"ut":3.45,"rate":3000,"curve":"solid"},{"ut":3.55,"rate":2600,"curve":"solid"},{"ut":3.7,"rate":2200,"curve":"solid"},{"ut":3.9,"rate":1850,"curve":"solid"},{"ut":4.2,"rate":1500,"curve":"solid"},{"ut":4.6,"rate":1200,"curve":"solid"},{"ut":5.0,"rate":950,"curve":"solid"},{"ut":5.5,"rate":750,"curve":"solid"},{"ut":6.0,"rate":600,"curve":"solid"},{"ut":6.5,"rate":480,"curve":"solid"},{"ut":7.0,"rate":400,"curve":"solid"},{"ut":7.5,"rate":350,"curve":"solid"},{"ut":8.0,"rate":310,"curve":"solid"},{"ut":8.5,"rate":270,"curve":"solid"},{"ut":9.0,"rate":240,"curve":"solid"},
      {"ut":2.85,"rate":5,"curve":"dotted"},{"ut":2.87,"rate":40,"curve":"dotted"},{"ut":2.92,"rate":120,"curve":"dotted"},{"ut":3.0,"rate":350,"curve":"dotted"},{"ut":3.15,"rate":900,"curve":"dotted"},{"ut":3.3,"rate":1600,"curve":"dotted"},{"ut":3.5,"rate":2400,"curve":"dotted"},{"ut":3.7,"rate":3000,"curve":"dotted"},{"ut":3.9,"rate":3350,"curve":"dotted"},{"ut":4.1,"rate":3450,"curve":"dotted"},{"ut":4.4,"rate":3350,"curve":"dotted"},{"ut":4.8,"rate":2850,"curve":"dotted"},{"ut":5.1,"rate":2400,"curve":"dotted"},{"ut":5.35,"rate":2050,"curve":"dotted"},{"ut":5.7,"rate":1700,"curve":"dotted"},{"ut":6.0,"rate":1450,"curve":"dotted"},{"ut":6.38,"rate":1200,"curve":"dotted"},{"ut":6.7,"rate":950,"curve":"dotted"},{"ut":7.0,"rate":780,"curve":"dotted"},{"ut":7.5,"rate":520,"curve":"dotted"},{"ut":8.0,"rate":420,"curve":"dotted"},{"ut":8.5,"rate":350,"curve":"dotted"},{"ut":9.0,"rate":300,"curve":"dotted"}
    ],
    "newark_model": [
      {"ut":2.7,"rate":5,"curve":"solid"},{"ut":2.71,"rate":60,"curve":"solid"},{"ut":2.73,"rate":200,"curve":"solid"},{"ut":2.78,"rate":400,"curve":"solid"},{"ut":2.85,"rate":520,"curve":"solid"},{"ut":3.0,"rate":600,"curve":"solid"},{"ut":3.15,"rate":560,"curve":"solid"},{"ut":3.35,"rate":460,"curve":"solid"},{"ut":3.6,"rate":330,"curve":"solid"},{"ut":3.85,"rate":230,"curve":"solid"},{"ut":4.1,"rate":170,"curve":"solid"},{"ut":4.4,"rate":130,"curve":"solid"},{"ut":4.7,"rate":100,"curve":"solid"},{"ut":5.0,"rate":80,"curve":"solid"},{"ut":5.3,"rate":62,"curve":"solid"},{"ut":5.5,"rate":50,"curve":"solid"},{"ut":5.7,"rate":46,"curve":"solid"},{"ut":5.9,"rate":40,"curve":"solid"},{"ut":6.1,"rate":38,"curve":"solid"},{"ut":6.3,"rate":31,"curve":"solid"},{"ut":6.5,"rate":32,"curve":"solid"},{"ut":6.7,"rate":25,"curve":"solid"},{"ut":6.9,"rate":24,"curve":"solid"},{"ut":7.0,"rate":21,"curve":"solid"},{"ut":7.2,"rate":20,"curve":"solid"},{"ut":7.4,"rate":17,"curve":"solid"},{"ut":7.6,"rate":18,"curve":"solid"},{"ut":7.8,"rate":15,"curve":"solid"},{"ut":7.9,"rate":16,"curve":"solid"},{"ut":8.0,"rate":12,"curve":"solid"},{"ut":8.05,"rate":14,"curve":"solid"},{"ut":8.12,"rate":10.5,"curve":"solid"},{"ut":8.2,"rate":12,"curve":"solid"},{"ut":8.3,"rate":9,"curve":"solid"},
      {"ut":2.86,"rate":5,"curve":"dotted"},{"ut":2.88,"rate":30,"curve":"dotted"},{"ut":2.93,"rate":80,"curve":"dotted"},{"ut":3.0,"rate":150,"curve":"dotted"},{"ut":3.1,"rate":250,"curve":"dotted"},{"ut":3.3,"rate":400,"curve":"dotted"},{"ut":3.6,"rate":520,"curve":"dotted"},{"ut":3.9,"rate":540,"curve":"dotted"},{"ut":4.2,"rate":500,"curve":"dotted"},{"ut":4.5,"rate":430,"curve":"dotted"},{"ut":5.0,"rate":280,"curve":"dotted"},{"ut":5.5,"rate":170,"curve":"dotted"},{"ut":6.0,"rate":110,"curve":"dotted"},{"ut":6.5,"rate":75,"curve":"dotted"},{"ut":7.0,"rate":50,"curve":"dotted"},{"ut":7.5,"rate":33,"curve":"dotted"},{"ut":8.0,"rate":22,"curve":"dotted"},{"ut":8.3,"rate":10,"curve":"dotted"},{"ut":8.5,"rate":7,"curve":"dotted"}
    ]
  },
  "columns": 2,
  "spacing": {"row": 111, "column": 152},
  "bounds": "flush",
  "concat": [
    {
      "title": "Oulu", "width": 323, "height": 205,
      "resolve": {"axis": {"x": "independent", "y": "independent"}},
      "layer": [
        {"data": {"name": "oulu_obs"},
         "mark": {"type": "point", "shape": "diamond", "filled": false, "color": "black", "size": 144, "strokeWidth": 1, "opacity": 1, "clip": true},
         "encoding": {
           "x": {"field": "ut", "type": "quantitative", "scale": {"domain": [0, 10], "nice": false}, "axis": {"orient": "bottom", "title": "UT, 2006/12/13", "format": "d", "values": [0,0.5,1,1.5,2,2.5,3,3.5,4,4.5,5,5.5,6,6.5,7,7.5,8,8.5,9,9.5,10], "labelExpr": "datum.value % 2 === 0 ? datum.label : ''", "tickSize": {"condition": {"test": "datum.value % 2 === 0", "value": -6}, "value": -3}, "labelPadding": 14, "titlePadding": 8}},
           "y": {"field": "rate", "type": "quantitative", "scale": {"type": "log", "domain": [10, 10000], "nice": false}, "axis": {"orient": "left", "title": "Increase Count Rate (100cph)", "format": "d", "values": [10,20,30,40,50,60,70,80,90,100,200,300,400,500,600,700,800,900,1000,2000,3000,4000,5000,6000,7000,8000,9000,10000], "labelExpr": "datum.value == 10 || datum.value == 100 || datum.value == 1000 || datum.value == 10000 ? datum.label : ''", "tickSize": {"condition": {"test": "datum.value == 10 || datum.value == 100 || datum.value == 1000 || datum.value == 10000", "value": -7}, "value": -3}, "labelPadding": 14, "titlePadding": 8}}
         }},
        {"data": {"name": "oulu_model"},
         "mark": {"type": "line", "color": "black", "strokeWidth": 1, "clip": true},
         "encoding": {
           "x": {"field": "ut", "type": "quantitative", "axis": {"orient": "top", "title": null, "labels": false, "values": [0,0.5,1,1.5,2,2.5,3,3.5,4,4.5,5,5.5,6,6.5,7,7.5,8,8.5,9,9.5,10], "tickSize": {"condition": {"test": "datum.value % 2 === 0", "value": -6}, "value": -3}}},
           "y": {"field": "rate", "type": "quantitative", "axis": {"orient": "right", "title": null, "labels": false, "values": [10,20,30,40,50,60,70,80,90,100,200,300,400,500,600,700,800,900,1000,2000,3000,4000,5000,6000,7000,8000,9000,10000], "tickSize": {"condition": {"test": "datum.value == 10 || datum.value == 100 || datum.value == 1000 || datum.value == 10000", "value": -7}, "value": -3}}},
           "strokeDash": {"field": "curve", "type": "nominal", "scale": {"domain": ["solid", "dotted"], "range": [[1, 0], [1.5, 4]]}, "legend": null}
         }}
      ]
    },
    {
      "title": "Thule", "width": 323, "height": 205,
      "resolve": {"axis": {"x": "independent", "y": "independent"}},
      "layer": [
        {"data": {"name": "thule_obs"},
         "mark": {"type": "point", "shape": "diamond", "filled": false, "color": "black", "size": 144, "strokeWidth": 1, "opacity": 1, "clip": true},
         "encoding": {
           "x": {"field": "ut", "type": "quantitative", "scale": {"domain": [0, 10], "nice": false}, "axis": {"orient": "bottom", "title": "UT, 2006/12/13", "format": "d", "values": [0,0.5,1,1.5,2,2.5,3,3.5,4,4.5,5,5.5,6,6.5,7,7.5,8,8.5,9,9.5,10], "labelExpr": "datum.value % 2 === 0 ? datum.label : ''", "tickSize": {"condition": {"test": "datum.value % 2 === 0", "value": -6}, "value": -3}, "labelPadding": 14, "titlePadding": 8}},
           "y": {"field": "rate", "type": "quantitative", "scale": {"type": "log", "domain": [10, 10000], "nice": false}, "axis": {"orient": "left", "title": "Increase Count Rate (100cph)", "format": "d", "values": [10,20,30,40,50,60,70,80,90,100,200,300,400,500,600,700,800,900,1000,2000,3000,4000,5000,6000,7000,8000,9000,10000], "labelExpr": "datum.value == 10 || datum.value == 100 || datum.value == 1000 || datum.value == 10000 ? datum.label : ''", "tickSize": {"condition": {"test": "datum.value == 10 || datum.value == 100 || datum.value == 1000 || datum.value == 10000", "value": -7}, "value": -3}, "labelPadding": 14, "titlePadding": 8}}
         }},
        {"data": {"name": "thule_model"},
         "mark": {"type": "line", "color": "black", "strokeWidth": 1, "clip": true},
         "encoding": {
           "x": {"field": "ut", "type": "quantitative", "axis": {"orient": "top", "title": null, "labels": false, "values": [0,0.5,1,1.5,2,2.5,3,3.5,4,4.5,5,5.5,6,6.5,7,7.5,8,8.5,9,9.5,10], "tickSize": {"condition": {"test": "datum.value % 2 === 0", "value": -6}, "value": -3}}},
           "y": {"field": "rate", "type": "quantitative", "axis": {"orient": "right", "title": null, "labels": false, "values": [10,20,30,40,50,60,70,80,90,100,200,300,400,500,600,700,800,900,1000,2000,3000,4000,5000,6000,7000,8000,9000,10000], "tickSize": {"condition": {"test": "datum.value == 10 || datum.value == 100 || datum.value == 1000 || datum.value == 10000", "value": -7}, "value": -3}}},
           "strokeDash": {"field": "curve", "type": "nominal", "scale": {"domain": ["solid", "dotted"], "range": [[1, 0], [1.5, 4]]}, "legend": null}
         }}
      ]
    },
    {
      "title": "McMurdo", "width": 323, "height": 205,
      "resolve": {"axis": {"x": "independent", "y": "independent"}},
      "layer": [
        {"data": {"name": "mcmurdo_obs"},
         "mark": {"type": "point", "shape": "diamond", "filled": false, "color": "black", "size": 144, "strokeWidth": 1, "opacity": 1, "clip": true},
         "encoding": {
           "x": {"field": "ut", "type": "quantitative", "scale": {"domain": [0, 10], "nice": false}, "axis": {"orient": "bottom", "title": "UT, 2006/12/13", "format": "d", "values": [0,0.5,1,1.5,2,2.5,3,3.5,4,4.5,5,5.5,6,6.5,7,7.5,8,8.5,9,9.5,10], "labelExpr": "datum.value % 2 === 0 ? datum.label : ''", "tickSize": {"condition": {"test": "datum.value % 2 === 0", "value": -6}, "value": -3}, "labelPadding": 14, "titlePadding": 8}},
           "y": {"field": "rate", "type": "quantitative", "scale": {"type": "log", "domain": [10, 10000], "nice": false}, "axis": {"orient": "left", "title": "Increase Count Rate (100cph)", "format": "d", "values": [10,20,30,40,50,60,70,80,90,100,200,300,400,500,600,700,800,900,1000,2000,3000,4000,5000,6000,7000,8000,9000,10000], "labelExpr": "datum.value == 10 || datum.value == 100 || datum.value == 1000 || datum.value == 10000 ? datum.label : ''", "tickSize": {"condition": {"test": "datum.value == 10 || datum.value == 100 || datum.value == 1000 || datum.value == 10000", "value": -7}, "value": -3}, "labelPadding": 14, "titlePadding": 8}}
         }},
        {"data": {"name": "mcmurdo_model"},
         "mark": {"type": "line", "color": "black", "strokeWidth": 1, "clip": true},
         "encoding": {
           "x": {"field": "ut", "type": "quantitative", "axis": {"orient": "top", "title": null, "labels": false, "values": [0,0.5,1,1.5,2,2.5,3,3.5,4,4.5,5,5.5,6,6.5,7,7.5,8,8.5,9,9.5,10], "tickSize": {"condition": {"test": "datum.value % 2 === 0", "value": -6}, "value": -3}}},
           "y": {"field": "rate", "type": "quantitative", "axis": {"orient": "right", "title": null, "labels": false, "values": [10,20,30,40,50,60,70,80,90,100,200,300,400,500,600,700,800,900,1000,2000,3000,4000,5000,6000,7000,8000,9000,10000], "tickSize": {"condition": {"test": "datum.value == 10 || datum.value == 100 || datum.value == 1000 || datum.value == 10000", "value": -7}, "value": -3}}},
           "strokeDash": {"field": "curve", "type": "nominal", "scale": {"domain": ["solid", "dotted"], "range": [[1, 0], [1.5, 4]]}, "legend": null}
         }}
      ]
    },
    {
      "title": "Newark", "width": 323, "height": 205,
      "resolve": {"axis": {"x": "independent", "y": "independent"}},
      "layer": [
        {"data": {"name": "oulu_obs"},
         "mark": {"type": "point", "shape": "diamond", "filled": false, "color": "black", "size": 144, "strokeWidth": 1, "opacity": 1, "clip": true},
         "encoding": {
           "x": {"field": "ut", "type": "quantitative", "scale": {"domain": [0, 10], "nice": false}, "axis": {"orient": "bottom", "title": "UT, 2006/12/13", "format": "d", "values": [0,0.5,1,1.5,2,2.5,3,3.5,4,4.5,5,5.5,6,6.5,7,7.5,8,8.5,9,9.5,10], "labelExpr": "datum.value % 2 === 0 ? datum.label : ''", "tickSize": {"condition": {"test": "datum.value % 2 === 0", "value": -6}, "value": -3}, "labelPadding": 14, "titlePadding": 8}},
           "y": {"field": "rate", "type": "quantitative", "scale": {"type": "log", "domain": [10, 10000], "nice": false}, "axis": {"orient": "left", "title": "Increase Count Rate (100cph)", "format": "d", "values": [10,20,30,40,50,60,70,80,90,100,200,300,400,500,600,700,800,900,1000,2000,3000,4000,5000,6000,7000,8000,9000,10000], "labelExpr": "datum.value == 10 || datum.value == 100 || datum.value == 1000 || datum.value == 10000 ? datum.label : ''", "tickSize": {"condition": {"test": "datum.value == 10 || datum.value == 100 || datum.value == 1000 || datum.value == 10000", "value": -7}, "value": -3}, "labelPadding": 14, "titlePadding": 8}}
         }},
        {"data": {"name": "newark_model"},
         "mark": {"type": "line", "color": "black", "strokeWidth": 1, "clip": true},
         "encoding": {
           "x": {"field": "ut", "type": "quantitative", "axis": {"orient": "top", "title": null, "labels": false, "values": [0,0.5,1,1.5,2,2.5,3,3.5,4,4.5,5,5.5,6,6.5,7,7.5,8,8.5,9,9.5,10], "tickSize": {"condition": {"test": "datum.value % 2 === 0", "value": -6}, "value": -3}}},
           "y": {"field": "rate", "type": "quantitative", "axis": {"orient": "right", "title": null, "labels": false, "values": [10,20,30,40,50,60,70,80,90,100,200,300,400,500,600,700,800,900,1000,2000,3000,4000,5000,6000,7000,8000,9000,10000], "tickSize": {"condition": {"test": "datum.value == 10 || datum.value == 100 || datum.value == 1000 || datum.value == 10000", "value": -7}, "value": -3}}},
           "strokeDash": {"field": "curve", "type": "nominal", "scale": {"domain": ["solid", "dotted"], "range": [[1, 0], [1.5, 4]]}, "legend": null}
         }}
      ]
    }
  ]
}
